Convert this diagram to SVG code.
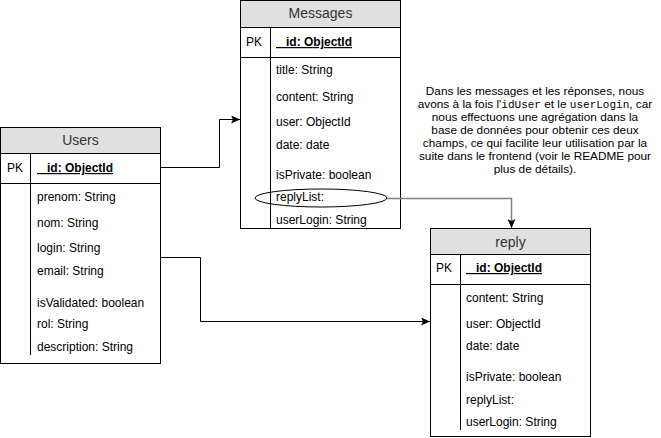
<svg xmlns="http://www.w3.org/2000/svg" width="661" height="438" viewBox="0 0 661 438">
<style>
.box{fill:#fff;stroke:#000;stroke-width:1}
.hdr{fill:#e0e0e0;stroke:#000;stroke-width:1}
.ln{stroke:#000;stroke-width:1;fill:none}
.title{font-family:"Liberation Sans",Arial,sans-serif;font-size:14px;fill:#333;text-anchor:middle}
.f{font-family:"Liberation Sans",Arial,sans-serif;font-size:12px;fill:#000}
.pk{font-family:"Liberation Sans",Arial,sans-serif;font-size:12px;fill:#000}
.id{font-family:"Liberation Sans",Arial,sans-serif;font-size:12px;font-weight:bold;text-decoration:underline;fill:#000}
.note{font-family:"Liberation Sans",Arial,sans-serif;font-size:11.8px;fill:#000;text-anchor:middle}
.mono{font-family:"Liberation Mono","DejaVu Sans Mono",monospace;font-size:11px}
</style>
<defs>
<marker id="arr" markerWidth="10" markerHeight="8" refX="9" refY="4" orient="auto" markerUnits="userSpaceOnUse">
<path d="M0,0 L9,4 L0,8 L2,4 Z" fill="#000"/>
</marker>
</defs>
<rect width="661" height="438" fill="#fff"/>

<g id="users">
<rect class="box" x="0.5" y="127.5" width="160" height="236"/>
<rect class="hdr" x="0.5" y="127.5" width="160" height="26"/>
<line class="ln" x1="0.5" y1="183.5" x2="160.5" y2="183.5"/>
<line class="ln" x1="30.5" y1="153.5" x2="30.5" y2="183.5"/>
<line class="ln" x1="30.5" y1="183.5" x2="30.5" y2="355"/>
<text class="title" x="80.5" y="145">Users</text>
<text class="pk" x="7" y="172">PK</text>
<text class="id" x="37" y="172" xml:space="preserve"> _id: ObjectId</text>
<text class="f" x="37" y="201">prenom: String</text>
<text class="f" x="37" y="227">nom: String</text>
<text class="f" x="37" y="252">login: String</text>
<text class="f" x="37" y="275">email: String</text>
<text class="f" x="37" y="307">isValidated: boolean</text>
<text class="f" x="37" y="328">rol: String</text>
<text class="f" x="37" y="351">description: String</text>
</g>

<g id="messages">
<rect class="box" x="240.5" y="0.5" width="160" height="228"/>
<rect class="hdr" x="240.5" y="0.5" width="160" height="27"/>
<line class="ln" x1="240.5" y1="57.5" x2="400.5" y2="57.5"/>
<line class="ln" x1="270.5" y1="27.5" x2="270.5" y2="57.5"/>
<line class="ln" x1="270.5" y1="57.5" x2="270.5" y2="228"/>
<text class="title" x="320.5" y="18">Messages</text>
<text class="pk" x="246" y="46">PK</text>
<text class="id" x="276" y="46" xml:space="preserve"> _id: ObjectId</text>
<text class="f" x="276" y="74">title: String</text>
<text class="f" x="276" y="101">content: String</text>
<text class="f" x="276" y="126">user: ObjectId</text>
<text class="f" x="276" y="149">date: date</text>
<text class="f" x="276" y="179">isPrivate: boolean</text>
<text class="f" x="276" y="201">replyList:</text>
<text class="f" x="276" y="224">userLogin: String</text>
<ellipse cx="321" cy="198" rx="66" ry="9" fill="none" stroke="#000" stroke-width="1"/>
</g>

<g id="reply">
<rect class="box" x="430.5" y="228.5" width="160" height="208"/>
<rect class="hdr" x="430.5" y="228.5" width="160" height="26"/>
<line class="ln" x1="430.5" y1="284.5" x2="590.5" y2="284.5"/>
<line class="ln" x1="460.5" y1="254.5" x2="460.5" y2="284.5"/>
<line class="ln" x1="460.5" y1="284.5" x2="460.5" y2="430"/>
<text class="title" x="510.5" y="247">reply</text>
<text class="pk" x="436" y="272">PK</text>
<text class="id" x="466" y="272" xml:space="preserve"> _id: ObjectId</text>
<text class="f" x="466" y="302">content: String</text>
<text class="f" x="466" y="328">user: ObjectId</text>
<text class="f" x="466" y="350">date: date</text>
<text class="f" x="466" y="381">isPrivate: boolean</text>
<text class="f" x="466" y="404">replyList:</text>
<text class="f" x="466" y="426">userLogin: String</text>
</g>

<g id="note">
<text class="note" x="535" y="95">Dans les messages et les réponses, nous</text>
<text class="note" x="535" y="108">avons à la fois l'<tspan class="mono">idUser</tspan> et le <tspan class="mono">userLogin</tspan>, car</text>
<text class="note" x="535" y="121">nous effectuons une agrégation dans la</text>
<text class="note" x="535" y="134">base de données pour obtenir ces deux</text>
<text class="note" x="535" y="147">champs, ce qui facilite leur utilisation par la</text>
<text class="note" x="535" y="160">suite dans le frontend (voir le README pour</text>
<text class="note" x="535" y="173">plus de détails).</text>
</g>

<g id="connectors">
<path class="ln" d="M160.5,167.5 H219.5 V119.5 H240" marker-end="url(#arr)"/>
<path class="ln" d="M160.5,257.5 H200.5 V321.5 H430" marker-end="url(#arr)"/>
<path d="M387,198.5 H511.5 V228" fill="none" stroke="#808080" stroke-width="1.5" marker-end="url(#arr)"/>
</g>
</svg>
